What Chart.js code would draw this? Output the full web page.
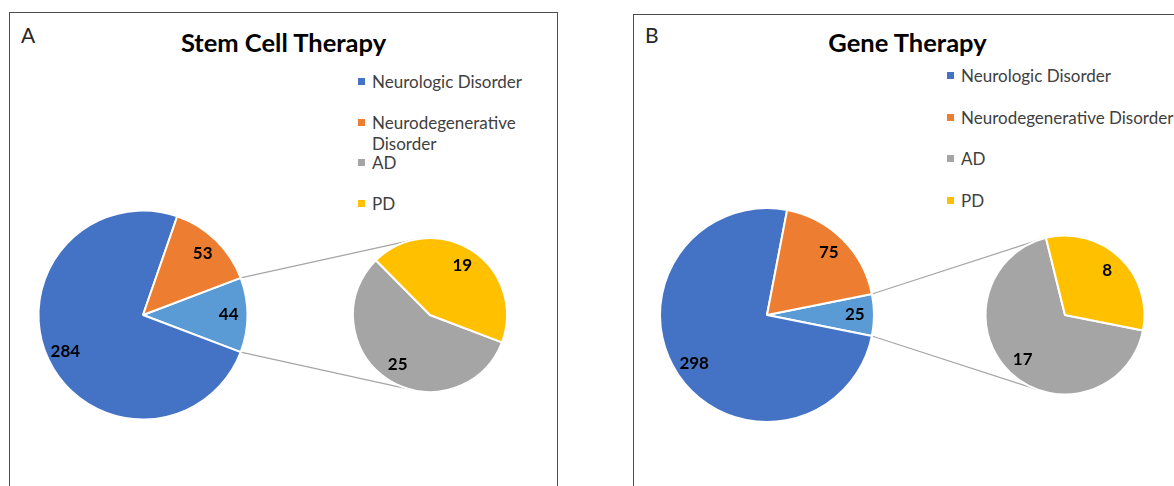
<!DOCTYPE html>
<html>
<head>
<meta charset="utf-8">
<script src="https://cdn.jsdelivr.net/npm/chart.js@4.4.1/dist/chart.umd.min.js"></script>
<style>
  html, body { margin: 0; padding: 0; background: #fff; }
  body { width: 1174px; height: 486px; position: relative; overflow: hidden; font-family: Lato, "Open Sans", sans-serif; }
  .panel { position: absolute; box-sizing: border-box; width: 549px; height: 540px; border: 1px solid #4d4d4d; border-bottom: none; }
  .letter { position: absolute; font-size: 21px; line-height: 1.2; color: #262626; }
  .title { position: absolute; width: 549px; text-align: center; font-size: 25.5px; font-weight: bold; line-height: 1.2; color: #000; }
  .legend { position: absolute; color: #404040; font-size: 17px; line-height: 21px; }
  .legend .row { position: absolute; left: 0; }
  .legend .sw { position: absolute; left: 0; width: 7px; height: 7px; }
  .legend .tx { position: absolute; }
  canvas { position: absolute; }
  #links { left: 0; top: 0; z-index: 0; }
  .pie { z-index: 1; }
</style>
</head>
<body>
<div class="panel" style="left:9px; top:12px;"></div>
<div class="panel" style="left:633px; top:14px; width:560px;"></div>

<div class="letter" style="left:21px; top:21.5px;">A</div>
<div class="letter" style="left:645px; top:21.5px;">B</div>
<div class="title" id="titleA" style="left:9px; top:26.5px;"></div>
<div class="title" id="titleB" style="left:633px; top:27px;"></div>

<div class="legend" id="legendA" style="left:358px; top:0;"></div>
<div class="legend" id="legendB" style="left:947px; top:0;"></div>

<canvas id="links" width="1174" height="486"></canvas>
<canvas id="stemMain" class="pie" width="230" height="230" style="left:28px; top:200px;"></canvas>
<canvas id="stemSplit" class="pie" width="180" height="180" style="left:340px; top:225px;"></canvas>
<canvas id="geneMain" class="pie" width="236" height="236" style="left:649px; top:197px;"></canvas>
<canvas id="geneSplit" class="pie" width="180" height="180" style="left:975px; top:225px;"></canvas>

<script>
// Categories shared by both panels
const categories = ['Neurologic Disorder', 'Neurodegenerative Disorder', 'AD', 'PD'];
const categoryColors = ['#4472C4', '#ED7D31', '#A5A5A5', '#FFC000'];
const otherColor = '#5B9BD5';

// Main pie values: Neurologic, Neurodegenerative, AD + PD combined
const stemMain = [284, 53, 44];
const geneMain = [298, 75, 25];
// Breakdown of the combined slice: AD, PD
const stemSplit = [25, 19];
const geneSplit = [17, 8];

const titles = ['Stem Cell Therapy', 'Gene Therapy'];

document.getElementById('titleA').textContent = titles[0];
document.getElementById('titleB').textContent = titles[1];

// Legends (HTML, built from the category list)
function buildLegend(id, rowTop, rowGap, textWidth) {
  const box = document.getElementById(id);
  categories.forEach((name, i) => {
    const row = document.createElement('div');
    row.className = 'row';
    row.style.top = (rowTop + i * rowGap) + 'px';
    const sw = document.createElement('div');
    sw.className = 'sw';
    sw.style.background = categoryColors[i];
    sw.style.top = '7px';
    const tx = document.createElement('div');
    tx.className = 'tx';
    tx.style.left = '14px';
    tx.style.top = '0px';
    if (textWidth) { tx.style.width = textWidth + 'px'; } else { tx.style.whiteSpace = 'nowrap'; }
    tx.textContent = name;
    row.appendChild(sw);
    row.appendChild(tx);
    box.appendChild(row);
  });
}
buildLegend('legendA', 71, 40.6, 180);
buildLegend('legendB', 65, 41.7, 0);

// Value labels placed inside each slice
const sliceLabels = {
  id: 'sliceLabels',
  afterDatasetsDraw(chart, args, opts) {
    const ctx = chart.ctx;
    const meta = chart.getDatasetMeta(0);
    const data = chart.data.datasets[0].data;
    ctx.save();
    ctx.font = opts.font;
    ctx.fillStyle = opts.color;
    ctx.textAlign = 'center';
    ctx.textBaseline = 'middle';
    meta.data.forEach((arc, i) => {
      const p = arc.getProps(['x', 'y', 'startAngle', 'endAngle', 'outerRadius'], true);
      const a = (p.startAngle + p.endAngle) / 2;
      const r = p.outerRadius * opts.frac;
      ctx.fillText(String(data[i]), p.x + Math.cos(a) * r, p.y + Math.sin(a) * r);
    });
    ctx.restore();
  }
};

function makePie(id, values, colors, rotation, radius, frac) {
  return new Chart(document.getElementById(id), {
    type: 'pie',
    data: {
      labels: values.map(String),
      datasets: [{
        data: values,
        backgroundColor: colors,
        borderColor: '#ffffff',
        borderWidth: 2
      }]
    },
    options: {
      responsive: false,
      animation: false,
      events: [],
      rotation: rotation,
      radius: radius,
      layout: { padding: 0 },
      plugins: {
        legend: { display: false },
        tooltip: { enabled: false },
        title: { display: false },
        sliceLabels: { font: 'bold 17px Lato, sans-serif', color: '#000000', frac: frac }
      }
    },
    plugins: [sliceLabels]
  });
}

const sum = arr => arr.reduce((a, b) => a + b, 0);

// Build one pie-of-pie: the combined slice faces right, its breakdown pie sits beside it
function pieOfPie(mainId, splitId, main, split, mainR, splitR) {
  const halfDeg = main[2] / sum(main) * 180;
  const mainChart = makePie(mainId,
    [main[2], main[0], main[1]],
    [otherColor, categoryColors[0], categoryColors[1]],
    90 - halfDeg, mainR, 0.82);
  const splitChart = makePie(splitId,
    split,
    [categoryColors[2], categoryColors[3]],
    90 + halfDeg, splitR, 0.77);
  drawLinks(mainChart, splitChart);
}

// Connector lines from the combined slice corners to the breakdown pie
function drawLinks(mainChart, splitChart) {
  const ctx = document.getElementById('links').getContext('2d');
  const mRect = mainChart.canvas.getBoundingClientRect();
  const sRect = splitChart.canvas.getBoundingClientRect();
  const arc = mainChart.getDatasetMeta(0).data[0].getProps(['x', 'y', 'startAngle', 'endAngle', 'outerRadius'], true);
  const disc = splitChart.getDatasetMeta(0).data[0].getProps(['x', 'y', 'outerRadius'], true);
  const cx = sRect.left + disc.x, cy = sRect.top + disc.y, r = disc.outerRadius;
  ctx.save();
  ctx.strokeStyle = '#a6a6a6';
  ctx.lineWidth = 1.2;
  [arc.startAngle, arc.endAngle].forEach((ang, k) => {
    const px = mRect.left + arc.x + Math.cos(ang) * arc.outerRadius;
    const py = mRect.top + arc.y + Math.sin(ang) * arc.outerRadius;
    const d = Math.hypot(px - cx, py - cy);
    const base = Math.atan2(py - cy, px - cx);
    const delta = Math.acos(Math.min(1, r / d));
    const t1 = base + delta, t2 = base - delta;
    const y1 = Math.sin(t1), y2 = Math.sin(t2);
    const t = (k === 0) ? (y1 < y2 ? t1 : t2) : (y1 > y2 ? t1 : t2);
    ctx.beginPath();
    ctx.moveTo(px, py);
    ctx.lineTo(cx + Math.cos(t) * r, cy + Math.sin(t) * r);
    ctx.stroke();
  });
  ctx.restore();
}

pieOfPie('stemMain', 'stemSplit', stemMain, stemSplit, 104.5, 77);
pieOfPie('geneMain', 'geneSplit', geneMain, geneSplit, 107, 79.5);
</script>
</body>
</html>
